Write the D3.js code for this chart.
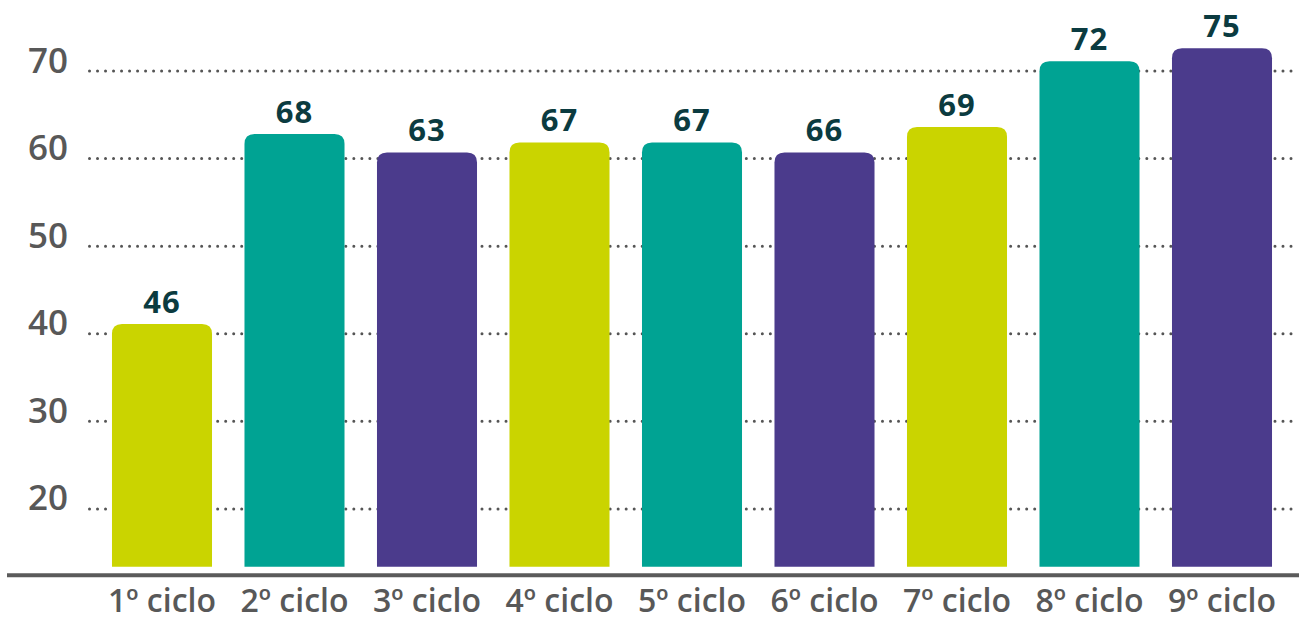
<!DOCTYPE html>
<html>
<head>
<meta charset="utf-8">
<script src="https://cdn.jsdelivr.net/npm/d3@7"></script>
<style>
  html, body { margin: 0; padding: 0; background: #ffffff; }
  svg { display: block; }
</style>
</head>
<body>
<svg id="chart" width="1299" height="621"></svg>
<script>
// ---- data ----
const categories = ["1º ciclo", "2º ciclo", "3º ciclo", "4º ciclo", "5º ciclo", "6º ciclo", "7º ciclo", "8º ciclo", "9º ciclo"];
// bar heights as read against the y axis
const barValues = [41.1, 62.8, 60.7, 61.85, 61.85, 60.7, 63.6, 71.1, 72.6];
// value labels printed above the bars
const valueLabels = ["46", "68", "63", "67", "67", "66", "69", "72", "75"];
const barColors = ["#cad400", "#00a393", "#4b3b8c", "#cad400", "#00a393", "#4b3b8c", "#cad400", "#00a393", "#4b3b8c"];
const yTicks = [20, 30, 40, 50, 60, 70];
const yMin = 13.4, yMax = 70;

// ---- layout ----
const svg = d3.select("#chart");
const W = 1299;
const baseY = 566.7, topY = 71;

const x = d3.scaleBand()
  .domain(categories)
  .range([95.75, 1288.25])
  .paddingInner(0.245)
  .paddingOuter(0.1225);

const y = d3.scaleLinear().domain([yMin, yMax]).range([baseY, topY]);

// gridlines
const grid = svg.append("g");
grid.selectAll("line").data(yTicks).enter().append("line")
  .attr("x1", 89.5).attr("x2", W)
  .attr("y1", d => y(d)).attr("y2", d => y(d))
  .attr("stroke", "#555555")
  .attr("stroke-width", 3)
  .attr("stroke-linecap", "round")
  .attr("stroke-dasharray", "0.01,8");

// y tick labels
const yAxis = d3.axisLeft(y).tickValues(yTicks).tickSize(0).tickPadding(0);
const ya = svg.append("g").attr("transform", "translate(68,0)").call(yAxis);
ya.select(".domain").remove();
ya.selectAll("text")
  .attr("dy", null)
  .attr("y", 1)
  .attr("x", 0)
  .attr("text-anchor", "end")
  .attr("fill", "#585858")
  .style("font-family", "'Open Sans', sans-serif")
  .style("font-size", "35px")
  .style("font-weight", "600");

// bars with rounded top corners
const r = 10;
function barPath(d, i) {
  const x0 = x(categories[i]), w = x.bandwidth();
  const yt = y(d), yb = y(yMin);
  return `M${x0},${yb} L${x0},${yt + r} Q${x0},${yt} ${x0 + r},${yt} L${x0 + w - r},${yt} Q${x0 + w},${yt} ${x0 + w},${yt + r} L${x0 + w},${yb} Z`;
}
svg.append("g").selectAll("path").data(barValues).enter().append("path")
  .attr("d", barPath)
  .attr("fill", (d, i) => barColors[i]);

// value labels
svg.append("g").selectAll("text").data(barValues).enter().append("text")
  .attr("x", (d, i) => x(categories[i]) + x.bandwidth() / 2)
  .attr("y", d => y(d) - 11)
  .attr("text-anchor", "middle")
  .attr("fill", "#0b3b40")
  .style("font-family", "'Open Sans', sans-serif")
  .style("font-size", "31px")
  .style("font-weight", "700")
  .style("letter-spacing", "1px")
  .text((d, i) => valueLabels[i]);

// baseline axis
const xAxis = d3.axisBottom(x).tickSize(0).tickPadding(0);
const xa = svg.append("g").attr("transform", "translate(0,575.3)").call(xAxis);
xa.select(".domain").remove();
xa.append("line")
  .attr("x1", 7).attr("x2", W)
  .attr("y1", 0).attr("y2", 0)
  .attr("stroke", "#5b5b5b").attr("stroke-width", 4);
xa.selectAll(".tick text")
  .attr("dy", null)
  .attr("y", 37)
  .attr("fill", "#585858")
  .style("font-family", "'Open Sans', sans-serif")
  .style("font-size", "32px")
  .style("font-weight", "600");
</script>
</body>
</html>
